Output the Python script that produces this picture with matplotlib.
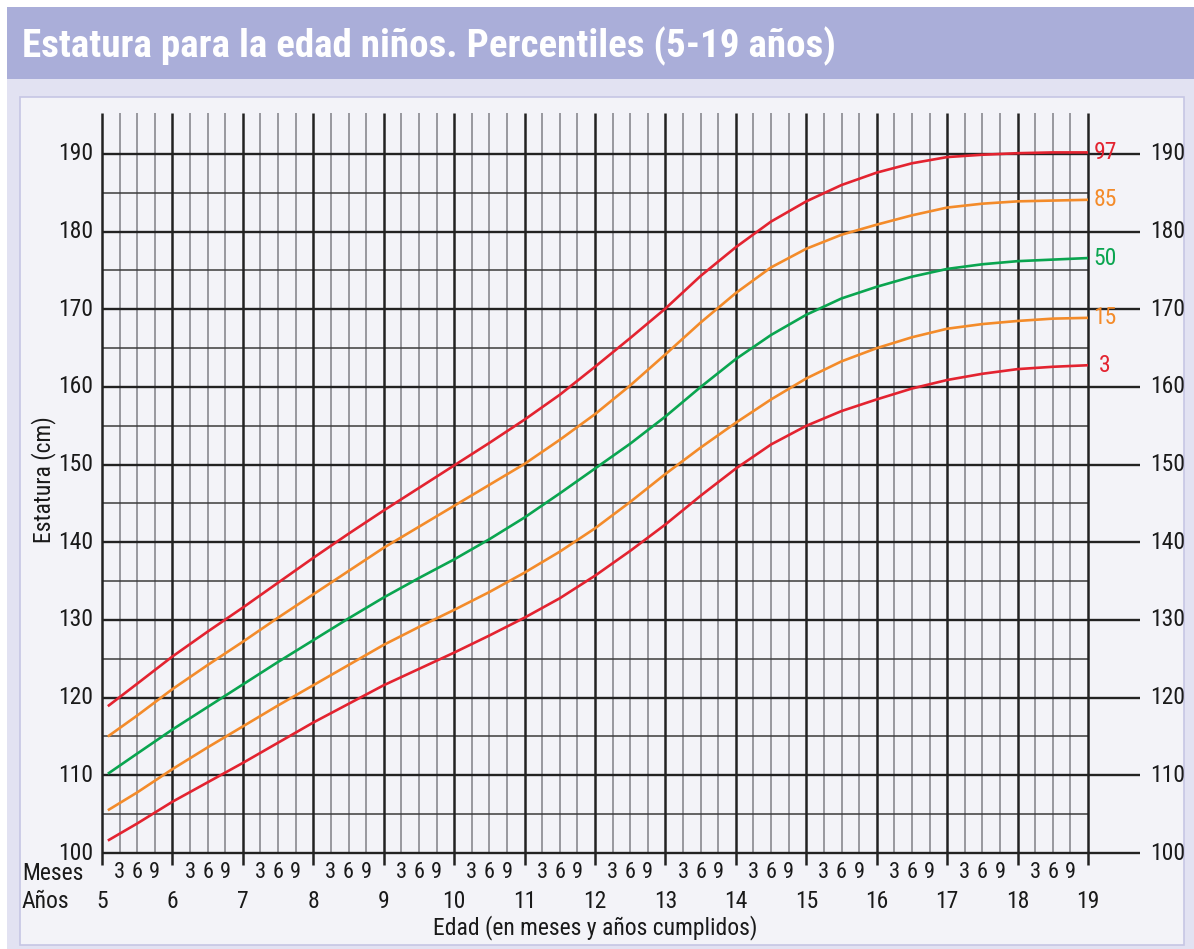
import matplotlib
matplotlib.use("Agg")
import matplotlib.pyplot as plt
from matplotlib.patches import Rectangle
from matplotlib import font_manager

# ---------------- data ----------------
ages = [5.083, 5.5, 6.0, 6.5, 7.0, 7.5, 8.0, 8.5, 9.0, 9.5, 10.0, 10.5, 11.0, 11.5,
        12.0, 12.5, 13.0, 13.5, 14.0, 14.5, 15.0, 15.5, 16.0, 16.5, 17.0, 17.5,
        18.0, 18.5, 19.0]
p97 = [118.9, 121.8, 125.3, 128.5, 131.6, 134.8, 138.0, 141.1, 144.1, 147.0, 149.9,
       152.8, 155.8, 159.0, 162.6, 166.3, 170.1, 174.3, 178.0, 181.3, 183.9, 186.0,
       187.6, 188.8, 189.6, 189.9, 190.1, 190.2, 190.2]
p85 = [115.0, 117.7, 121.1, 124.2, 127.2, 130.3, 133.3, 136.3, 139.3, 142.0, 144.7,
       147.4, 150.1, 153.2, 156.5, 160.2, 164.2, 168.3, 172.1, 175.4, 177.8, 179.6,
       180.9, 182.1, 183.1, 183.6, 183.9, 184.0, 184.1]
p50 = [110.2, 112.8, 115.9, 118.8, 121.7, 124.6, 127.4, 130.2, 132.9, 135.4, 137.8,
       140.4, 143.2, 146.3, 149.5, 152.7, 156.2, 160.0, 163.6, 166.7, 169.3, 171.4,
       172.9, 174.2, 175.2, 175.8, 176.2, 176.4, 176.6]
p15 = [105.5, 107.8, 110.8, 113.6, 116.3, 119.0, 121.6, 124.2, 126.8, 129.1, 131.3,
       133.6, 136.1, 138.8, 141.8, 145.2, 148.8, 152.2, 155.4, 158.4, 161.1, 163.3,
       165.0, 166.4, 167.5, 168.1, 168.5, 168.8, 168.9]
p3 = [101.6, 103.8, 106.6, 109.1, 111.6, 114.2, 116.8, 119.2, 121.6, 123.7, 125.8,
      128.0, 130.3, 132.8, 135.7, 138.9, 142.3, 146.0, 149.5, 152.6, 155.0, 156.9,
      158.4, 159.8, 160.9, 161.7, 162.3, 162.6, 162.8]
series_labels = ["97", "85", "50", "15", "3"]
years = list(range(5, 20))
month_labels = ["3", "6", "9"]
height_ticks = list(range(100, 200, 10))

title = "Estatura para la edad niños. Percentiles (5-19 años)"
ylabel = "Estatura (cm)"
xlabel = "Edad (en meses y años cumplidos)"

# ---------------- fonts: prefer a condensed sans ----------------
names = sorted({f.name for f in font_manager.fontManager.ttflist})
cond = [n for n in names if ("Narrow" in n or "Condensed" in n) and "Mono" not in n
        and "Serif" not in n]
pref = ["Liberation Sans Narrow", "Roboto Condensed", "Open Sans Condensed",
        "DejaVu Sans Condensed", "Noto Sans Condensed"]
chosen = [p for p in pref if p in cond] + [n for n in cond if n not in pref]
FONT = (chosen[:1] if chosen else []) + ["Roboto", "DejaVu Sans"]

# ---------------- style ----------------
RED = "#e32330"
ORANGE = "#f38b2a"
GREEN = "#0aa550"
colors = [RED, ORANGE, GREEN, ORANGE, RED]
TXT = "#1a1a1a"

W, H = 1194, 949
fig = plt.figure(figsize=(W / 100, H / 100), dpi=100)
fig.patch.set_facecolor("white")


def fr(x0, y0, x1, y1, **kw):
    fig.patches.append(Rectangle((x0 / W, 1 - y1 / H), (x1 - x0) / W, (y1 - y0) / H,
                                 transform=fig.transFigure, figure=fig, **kw))


fr(7, 7, W, H, facecolor="#e2e2f2", edgecolor="none", zorder=-10)
fr(7, 7, W, 79, facecolor="#aaaed9", edgecolor="none", zorder=-9)
fr(20, 97, 1184, 945, facecolor="#f3f3f8", edgecolor="#c6c6e4", linewidth=1.2,
   zorder=-8)

# axes geometry: x 5 -> px 102, 1 yr = 70.43 px ; y 100 -> px 853, 1 cm = 7.767 px
px_per_year = 70.43
px_per_cm = 7.767
ax_left, ax_right, ax_top, ax_bottom = 102, 1140, 113, 853
ax = fig.add_axes([ax_left / W, 1 - ax_bottom / H, (ax_right - ax_left) / W,
                   (ax_bottom - ax_top) / H])
ax.set_zorder(1)
x_max = 5 + (ax_right - ax_left) / px_per_year
y_max = 100 + (ax_bottom - ax_top) / px_per_cm
ax.set_xlim(5, x_max)
ax.set_ylim(100, y_max)
ax.axis("off")

y_tick_bottom = 100 - 12 / px_per_cm
MAJ_C, MIN_HC, MIN_VC = "#222222", "#3c3c3c", "#808086"

for yr in years[:-1]:
    for q in (0.25, 0.5, 0.75):
        ax.vlines(yr + q, 100, y_max, color=MIN_VC, linewidth=1.1, zorder=1)
for h in range(105, 190, 10):
    ax.hlines(h, 5, 19, color=MIN_HC, linewidth=1.1, zorder=1)
for h in height_ticks:
    ax.hlines(h, 5, x_max, color=MAJ_C, linewidth=1.7, zorder=2, clip_on=False)
for yr in years:
    ax.vlines(yr, y_tick_bottom, y_max, color=MAJ_C, linewidth=1.8, zorder=2,
              clip_on=False)

for vals, c in zip([p97, p85, p50, p15, p3], colors):
    ax.plot(ages, vals, color=c, linewidth=1.9, zorder=5, solid_capstyle="butt",
            solid_joinstyle="round")

lab_x = 5 + (1105 - ax_left) / px_per_year
for vals, c, lab in zip([p97, p85, p50, p15, p3], colors, series_labels):
    ax.text(lab_x, vals[-1], lab, color=c, fontsize=17, family=FONT, ha="center",
            va="center", zorder=6, clip_on=False)

left_x = 5 - 9 / px_per_year
right_x = 5 + (1150 - ax_left) / px_per_year
for h in height_ticks:
    ax.text(left_x, h, str(h), fontsize=17, family=FONT, ha="right", va="center",
            color=TXT, clip_on=False)
    ax.text(right_x, h, str(h), fontsize=17, family=FONT, ha="left", va="center",
            color=TXT, clip_on=False)


def ypx(p):
    return 100 - (p - ax_bottom) / px_per_cm


for yr in years[:-1]:
    for q, m in zip((0.25, 0.5, 0.75), month_labels):
        ax.text(yr + q, ypx(873), m, fontsize=16, family=FONT, ha="center",
                va="center", color=TXT, clip_on=False)
for yr in years:
    ax.text(yr, ypx(902), str(yr), fontsize=17, family=FONT, ha="center",
            va="center", color=TXT, clip_on=False)

fig.text(22 / W, 1 - 873 / H, "Meses", fontsize=17, family=FONT, ha="left",
         va="center", color=TXT)
fig.text(22 / W, 1 - 902 / H, "Años", fontsize=17, family=FONT, ha="left",
         va="center", color=TXT)
ax.text(12, ypx(928), xlabel, fontsize=17, family=FONT, ha="center", va="center",
        color=TXT, clip_on=False)
fig.text(44 / W, 1 - 480 / H, ylabel, fontsize=17, family=FONT, ha="center",
         va="center", rotation=90, color=TXT)

# title: fit to the reference width (~813 px)
t = fig.text(22 / W, 1 - 46 / H, title, color="white", fontsize=31,
             fontweight="bold", family=FONT, ha="left", va="center")
r = fig.canvas.get_renderer()
wpx = t.get_window_extent(r).width
if wpx > 813:
    t.set_fontsize(31 * 813 / wpx)

fig.savefig("out.png", dpi=100, facecolor=fig.get_facecolor())
